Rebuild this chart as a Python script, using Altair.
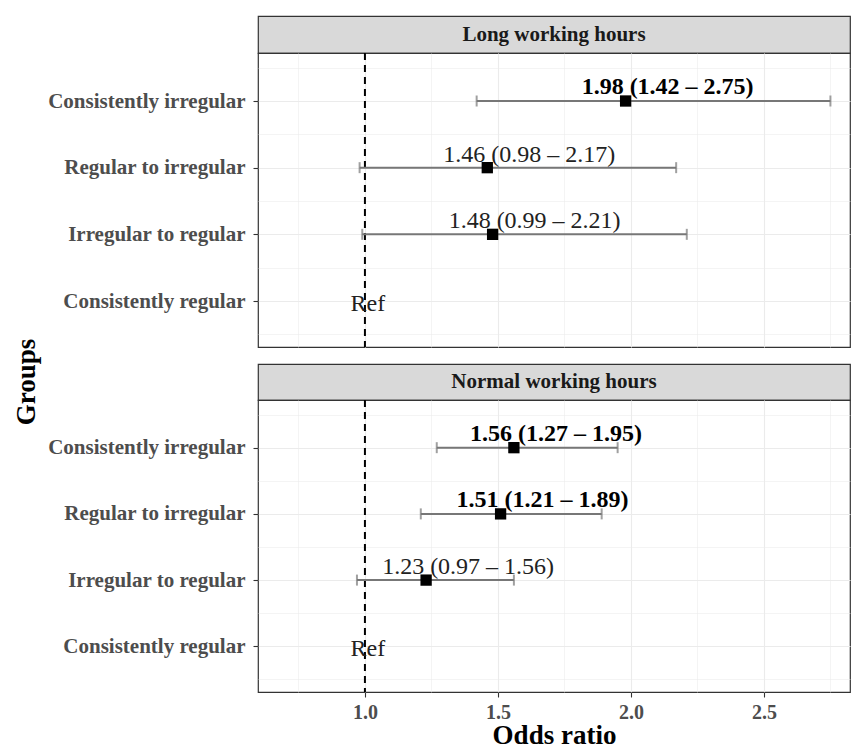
import altair as alt
import pandas as pd

# ---------------- data ----------------
groups = ["Consistently irregular", "Regular to irregular",
          "Irregular to regular", "Consistently regular"]
panels = ["Long working hours", "Normal working hours"]

long_or = [1.98, 1.46, 1.48, None]
long_lo = [1.42, 0.98, 0.99, None]
long_hi = [2.75, 2.17, 2.21, None]
long_sig = [True, False, False, False]

normal_or = [1.56, 1.51, 1.23, None]
normal_lo = [1.27, 1.21, 0.97, None]
normal_hi = [1.95, 1.89, 1.56, None]
normal_sig = [True, True, False, False]

ref_value = 1.0
ref_label = "Ref"

x_ticks = [0.75, 1.0, 1.25, 1.5, 1.75, 2.0, 2.25, 2.5, 2.75]

# ---------------- style ----------------
FONT = "Liberation Serif"
W = 592
XDOM = [0.598, 0.598 + W / 266.0]
YDOM = [-0.69, 3.72]

XMAJ = "abs(datum.value*2 - round(datum.value*2)) < 0.001"
YMAJ = "abs(datum.value - round(datum.value)) < 0.001"
ylab_arr = "[" + ",".join("'" + g + "'" for g in groups[::-1]) + "]"

xscale = alt.Scale(domain=XDOM, nice=False, zero=False)
yscale = alt.Scale(domain=YDOM, nice=False, zero=False)
y_vals = [v / 2 for v in range(-1, 8)]


def x_axis(bottom):
    common = dict(
        values=x_ticks, grid=True, gridColor="#ebebeb",
        gridWidth={"condition": {"test": XMAJ, "value": 1.1}, "value": 0.55},
        domain=False,
    )
    if bottom:
        return alt.Axis(
            **common, title="Odds ratio", labels=True,
            labelExpr=XMAJ + " ? format(datum.value, '.1f') : ''",
            ticks=True, tickSize=5, tickColor="#333333", tickWidth=1.1,
            tickOpacity={"condition": {"test": XMAJ, "value": 1}, "value": 0},
            labelFont=FONT, labelFontSize=20, labelFontWeight="bold",
            labelColor="#4d4d4d", labelPadding=5,
            titleFont=FONT, titleFontSize=27, titleFontWeight="bold",
            titleColor="black", titlePadding=0,
        )
    return alt.Axis(**common, title=None, labels=False, ticks=False)


y_axis = alt.Axis(
    values=y_vals, grid=True, gridColor="#ebebeb",
    gridWidth={"condition": {"test": YMAJ, "value": 1.1}, "value": 0.55},
    domain=False, title=None,
    labelExpr=YMAJ + " ? " + ylab_arr + "[round(datum.value)] : ''",
    ticks=True, tickSize=5, tickColor="#333333", tickWidth=1.1,
    tickOpacity={"condition": {"test": YMAJ, "value": 1}, "value": 0},
    labelFont=FONT, labelFontSize=21, labelFontWeight="bold",
    labelColor="#4d4d4d", labelPadding=8, labelLimit=0,
)


def panel(or_, lo, hi, sig, bottom, height):
    rows = []
    refs = []
    for i, g in enumerate(groups):
        pos = len(groups) - 1 - i
        if or_[i] is None:
            refs.append({"group": g, "pos": pos, "ref": ref_value, "label": ref_label})
        else:
            rows.append({
                "group": g, "pos": pos, "or": or_[i], "lo": lo[i], "hi": hi[i],
                "sig": sig[i],
                "label": f"{or_[i]:.2f} ({lo[i]:.2f} \u2013 {hi[i]:.2f})",
            })
    est = pd.DataFrame(rows)
    ref = pd.DataFrame(refs)
    xa = x_axis(bottom)
    ttl = "Odds ratio" if bottom else None

    def X(f):
        return alt.X(f, type="quantitative", scale=xscale, axis=xa, title=ttl)

    Y = alt.Y("pos:Q", scale=yscale, axis=y_axis)

    dash = alt.Chart(pd.DataFrame({"ref": [ref_value]})).mark_rule(
        color="black", strokeWidth=2, strokeDash=[7, 5]
    ).encode(x=X("ref"))

    bar = alt.Chart(est).mark_rule(color="#777777", strokeWidth=2).encode(
        x=X("lo"), x2="hi", y=Y)
    cap_lo = alt.Chart(est).mark_tick(color="#777777", thickness=2, size=11,
                                      orient="vertical").encode(x=X("lo"), y=Y)
    cap_hi = alt.Chart(est).mark_tick(color="#777777", thickness=2, size=11,
                                      orient="vertical").encode(x=X("hi"), y=Y)
    pt = alt.Chart(est).mark_square(size=128, color="black", opacity=1,
                                    filled=True).encode(x=X("or"), y=Y)
    txt_b = alt.Chart(est).transform_filter("datum.sig").mark_text(
        font=FONT, fontSize=24, fontWeight="bold", color="black",
        align="center", baseline="alphabetic", dx=42, dy=-7
    ).encode(x=X("or"), y=Y, text="label:N")
    txt_n = alt.Chart(est).transform_filter("!datum.sig").mark_text(
        font=FONT, fontSize=24, color="#222222",
        align="center", baseline="alphabetic", dx=42, dy=-6
    ).encode(x=X("or"), y=Y, text="label:N")
    reft = alt.Chart(ref).mark_text(
        font=FONT, fontSize=24, color="#222222",
        align="center", baseline="alphabetic", dx=3, dy=10
    ).encode(x=X("ref"), y=Y, text="label:N")

    return alt.layer(dash, bar, cap_lo, cap_hi, pt, txt_b, txt_n, reft).properties(
        width=W, height=height,
        view=alt.ViewBackground(fill="white", stroke="#333333", strokeWidth=1.2),
    )


def strip(name, h):
    return alt.Chart(pd.DataFrame({"panel": [name]})).mark_text(
        font=FONT, fontSize=21, fontWeight="bold", color="#1a1a1a",
        align="center", baseline="middle"
    ).encode(
        x=alt.value(W / 2), y=alt.value(h / 2), text="panel:N"
    ).properties(
        width=W, height=h,
        view=alt.ViewBackground(fill="#d9d9d9", stroke="#333333", strokeWidth=1.2),
    )


top = alt.vconcat(strip(panels[0], 37),
                  panel(long_or, long_lo, long_hi, long_sig, False, 294),
                  spacing=0, bounds="flush")
bottom = alt.vconcat(strip(panels[1], 36),
                     panel(normal_or, normal_lo, normal_hi, normal_sig, True, 292),
                     spacing=0, bounds="flush")

chart = alt.vconcat(top, bottom, spacing=14).properties(
    title=alt.TitleParams(
        "Groups", orient="left", anchor="middle", font=FONT, fontSize=27,
        fontWeight="bold", color="black", offset=6,
    ),
    padding={"left": 5, "top": 7, "right": 0, "bottom": 0},
).configure(background="white")

chart.save("out.html", embed_options={"renderer": "svg", "actions": False})
